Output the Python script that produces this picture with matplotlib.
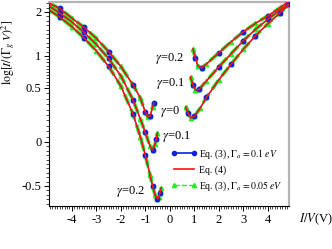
import numpy as np
import matplotlib
matplotlib.use("Agg")
import matplotlib.pyplot as plt
from matplotlib.lines import Line2D
from matplotlib.ticker import FixedLocator, MultipleLocator

plt.rcParams['font.family'] = ['Liberation Serif', 'DejaVu Serif']
plt.rcParams['mathtext.fontset'] = 'stix'
plt.rcParams['axes.unicode_minus'] = False

# left branches (1/V < 0)
x_left = [-4.9, -4.5, -4.0, -3.5, -3.0, -2.5, -2.0, -1.5, -1.2, -1.0, -0.9, -0.8, -0.7, -0.65]
y_left_g0 = [2.19, 2.08, 1.86, 1.65, 1.40, 1.10, 0.836, 0.547, 0.407, 0.278, 0.231, 0.241, 0.324, 0.361]

x_left_g1 = [-4.9, -4.5, -4.0, -3.5, -3.0, -2.5, -2.0, -1.5, -1.2, -1.0, -0.8, -0.7, -0.6, -0.55, -0.5]
y_left_g1 = [2.125, 1.977, 1.773, 1.534, 1.261, 0.961, 0.691, 0.389, 0.213, 0.088, -0.051, -0.091, -0.023, 0.028, 0.083]

x_left_g2 = [-4.9, -4.5, -4.0, -3.5, -3.0, -2.5, -2.0, -1.5, -1.2, -1.0, -0.8, -0.7, -0.6, -0.5, -0.45, -0.4, -0.35]
y_left_g2 = [2.034, 1.886, 1.666, 1.409, 1.114, 0.838, 0.531, 0.259, 0.046, -0.148, -0.381, -0.5, -0.602, -0.648, -0.625, -0.58, -0.523]

# right branches (1/V > 0)
x_right_g0 = [0.65, 0.75, 0.85, 1.0, 1.25, 1.5, 2.0, 2.5, 3.0, 3.5, 4.0, 4.5, 4.85]
y_right_g0 = [0.324, 0.269, 0.222, 0.236, 0.315, 0.412, 0.625, 0.867, 1.148, 1.455, 1.727, 1.977, 2.148]

x_right_g1 = [0.85, 0.95, 1.05, 1.2, 1.5, 2.0, 2.5, 3.0, 3.5, 4.0, 4.5, 4.85]
y_right_g1 = [0.672, 0.547, 0.481, 0.486, 0.609, 0.828, 1.045, 1.341, 1.602, 1.83, 2.045, 2.17]

x_right_g2 = [0.95, 1.05, 1.15, 1.3, 1.5, 2.0, 2.5, 3.0, 3.5, 4.0, 4.5, 4.85]
y_right_g2 = [1.159, 0.969, 0.844, 0.8125, 0.875, 1.068, 1.318, 1.545, 1.739, 1.909, 2.091, 2.239]

branches = [
    (x_left, y_left_g0), (x_left_g1, y_left_g1), (x_left_g2, y_left_g2),
    (x_right_g0, y_right_g0), (x_right_g1, y_right_g1), (x_right_g2, y_right_g2),
]

# the y axis of the original is not evenly spaced, so map tick values to heights
tick_vals = np.array([-0.5, 0.0, 0.5, 1.0, 2.0])
tick_pos = np.array([0.0, 44.0, 98.0, 130.0, 174.0])


def fwd(v):
    v = np.asarray(v, dtype=float)
    out = np.interp(v, tick_vals, tick_pos)
    out = np.where(v < tick_vals[0], tick_pos[0] + (v - tick_vals[0]) * 88.0, out)
    out = np.where(v > tick_vals[-1], tick_pos[-1] + (v - tick_vals[-1]) * 44.0, out)
    return out


def inv(p):
    p = np.asarray(p, dtype=float)
    out = np.interp(p, tick_pos, tick_vals)
    out = np.where(p < tick_pos[0], tick_vals[0] + (p - tick_pos[0]) / 88.0, out)
    out = np.where(p > tick_pos[-1], tick_vals[-1] + (p - tick_pos[-1]) / 44.0, out)
    return out


fig = plt.figure(figsize=(3.32, 2.49), dpi=100)
ax = fig.add_axes([0.148, 0.173, 0.722, 0.819])
ax.set_yscale('function', functions=(fwd, inv))

for xs, ys in branches:
    ax.plot(xs, ys, color='#22ee22', lw=2.6, ls='--', dashes=(3, 1.5), marker='^', ms=3.2,
            mec='#22ee22', zorder=2)
    ax.plot(xs, ys, color='#1020e0', lw=0.8, marker='o', ms=3.2, mec='#1020e0',
            markevery=(1, 2), zorder=3)
    ax.plot(xs, ys, color='#ff1010', lw=1.1, zorder=4)

ax.set_xlim(-4.93, 4.87)
ax.set_ylim(-0.727, 2.227)

ax.xaxis.set_major_locator(FixedLocator([-4, -3, -2, -1, 0, 1, 2, 3, 4]))
ax.xaxis.set_minor_locator(MultipleLocator(0.1))
ax.yaxis.set_major_locator(FixedLocator(tick_vals))
ax.set_yticklabels(['-0.5', '0', '0.5', '1', '2'])
minor_y = list(np.arange(-0.7, 1.0, 0.05)) + list(np.arange(1.1, 2.25, 0.1))
ax.yaxis.set_minor_locator(FixedLocator(minor_y))
ax.tick_params(which='major', direction='out', length=3.5, width=0.7, labelsize=9, pad=2)
ax.tick_params(which='minor', direction='out', length=2, width=0.5)

for s in ['left', 'bottom']:
    ax.spines[s].set_color('black')
    ax.spines[s].set_linewidth(0.8)
for s in ['top', 'right']:
    ax.spines[s].set_color('#b4b4b4')
    ax.spines[s].set_linewidth(1.6)

ax.set_ylabel(r'$\log[I/(\Gamma_g\ V)^2]$', fontsize=8.5, labelpad=1)
ax.yaxis.set_label_coords(-0.13, 0.755)
fig.text(299 / 332, 1 - 219 / 249, r'$I/V$(V)', fontsize=9, va='center', ha='left')

ax.text(0.442, 0.721, r'$\gamma$=0.2', transform=ax.transAxes, fontsize=9, va='center')
ax.text(0.446, 0.598, r'$\gamma$=0.1', transform=ax.transAxes, fontsize=9, va='center')
ax.text(0.4625, 0.461, r'$\gamma$=0', transform=ax.transAxes, fontsize=9, va='center')
ax.text(0.471, 0.338, r'$\gamma$=0.1', transform=ax.transAxes, fontsize=9, va='center')
ax.text(0.279, 0.069, r'$\gamma$=0.2', transform=ax.transAxes, fontsize=9, va='center')

handles = [
    Line2D([], [], color='#1020e0', lw=1.2, marker='o', ms=3),
    Line2D([], [], color='#ff1010', lw=1.2),
    Line2D([], [], color='#22ee22', lw=1.0, ls='--', marker='^', ms=3),
]
labels = [
    r'Eq. (3), $\Gamma_a$$\mathit{=0.1\ eV}$',
    'Eq. (4)',
    r'Eq. (3), $\Gamma_a$$\mathit{=0.05\ eV}$',
]
ax.legend(handles, labels, loc='lower left', bbox_to_anchor=(0.49, 0.04), frameon=False,
          fontsize=7, handlelength=2.6, handletextpad=0.2, labelspacing=0.45,
          borderpad=0, numpoints=2)

fig.savefig('out.png', dpi=100)
